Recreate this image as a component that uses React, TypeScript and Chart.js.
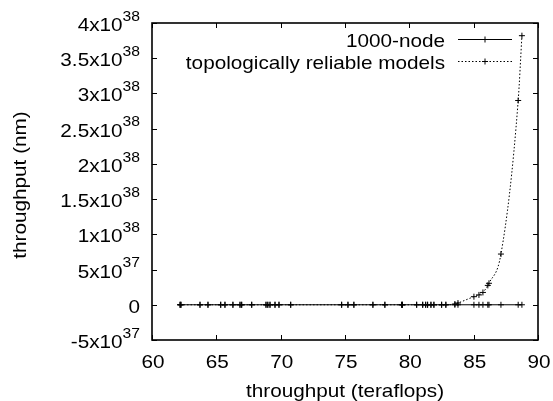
import { useEffect, useRef } from "react";
import { Chart, registerables } from "chart.js";

Chart.register(...registerables);

// ---- data ----
const xValues = [
  62.18, 62.25, 63.73, 64.35, 65.34, 65.67, 66.29, 66.84, 66.97, 67.75,
  68.86, 69.0, 69.17, 69.56, 69.87, 70.78, 74.74, 75.23, 75.69, 77.17,
  78.1, 79.4, 79.47, 80.57, 81.04, 81.27, 81.42, 81.68, 81.91, 82.51,
  82.84, 83.54, 83.78, 85.02, 85.41, 85.72, 86.1, 86.19, 87.12, 88.46, 88.75,
];
const nodeValues = [
  0, 0, 0, 0, 0, 0, 0, 0, 0, 0,
  0, 0, 0, 0, 0, 0, 0, 0, 0, 0,
  0, 0, 0, 0, 0, 0, 0, 0, 0, 0,
  0, 0, 0, 0, 0, 0, 0, 0, 0, 0, 0,
];
const reliableValues = [
  0, 0, 0, 0, 0, 0, 0, 0, 0, 0,
  0, 0, 0, 0, 0, 0, 0, 0, 0, 0,
  0, 0, 0, 0, 0, 0, 0, 0, 0, 0,
  0, 1e36, 2.5e36, 1.15e37, 1.4e37, 1.75e37, 2.75e37, 3.05e37, 7.2e37, 2.9e38, 3.82e38,
];
const seriesLabels = ["1000-node", "topologically reliable models"];

const xTicks = [60, 65, 70, 75, 80, 85, 90];
const xTickLabels = ["60", "65", "70", "75", "80", "85", "90"];
const yTicks = [-5e37, 0, 5e37, 1e38, 1.5e38, 2e38, 2.5e38, 3e38, 3.5e38, 4e38];
const yTickMantissas = ["-5x10", "0", "5x10", "1x10", "1.5x10", "2x10", "2.5x10", "3x10", "3.5x10", "4x10"];
const yTickExponents = ["37", "", "37", "38", "38", "38", "38", "38", "38", "38"];
const xTitle = "throughput (teraflops)";
const yTitle = "throughput (nm)";

const FONT_FAMILY = '"Liberation Sans", Arial, Helvetica, sans-serif';
const MAIN_SIZE = 18.5;
const SUP_SIZE = 14;
const STRETCH = 1.12;

function textWidth(ctx: CanvasRenderingContext2D, text: string, size: number) {
  ctx.font = `${size}px ${FONT_FAMILY}`;
  return ctx.measureText(text).width * STRETCH;
}

function drawText(
  ctx: CanvasRenderingContext2D,
  text: string,
  x: number,
  y: number,
  align: "left" | "right" | "center",
  size: number
) {
  ctx.font = `${size}px ${FONT_FAMILY}`;
  const w = ctx.measureText(text).width * STRETCH;
  let lx = x;
  if (align === "right") lx = x - w;
  else if (align === "center") lx = x - w / 2;
  ctx.save();
  ctx.translate(lx, y);
  ctx.scale(STRETCH, 1);
  ctx.textAlign = "left";
  ctx.textBaseline = "alphabetic";
  ctx.fillStyle = "#000";
  ctx.fillText(text, 0, 0);
  ctx.restore();
}

const decorPlugin = {
  id: "gnuplotDecor",
  afterDraw(chart: any) {
    const ctx: CanvasRenderingContext2D = chart.ctx;
    const { left, right, top, bottom } = chart.chartArea;
    const xs = chart.scales.x;
    const ys = chart.scales.y;
    ctx.save();
    ctx.strokeStyle = "#000";
    ctx.fillStyle = "#000";

    // ticks (inward, mirrored)
    ctx.lineWidth = 1;
    const tl = 5;
    ctx.beginPath();
    xTicks.forEach((v) => {
      const px = Math.round(xs.getPixelForValue(v)) + 0.5;
      ctx.moveTo(px, bottom);
      ctx.lineTo(px, bottom - tl);
      ctx.moveTo(px, top);
      ctx.lineTo(px, top + tl);
    });
    yTicks.forEach((v) => {
      const py = Math.round(ys.getPixelForValue(v)) + 0.5;
      ctx.moveTo(left, py);
      ctx.lineTo(left + tl, py);
      ctx.moveTo(right, py);
      ctx.lineTo(right - tl, py);
    });
    ctx.stroke();

    // frame
    ctx.lineWidth = 1.6;
    ctx.strokeRect(left, top, right - left, bottom - top);

    // x tick labels
    xTicks.forEach((v, i) => {
      const px = xs.getPixelForValue(v);
      drawText(ctx, xTickLabels[i], px + 1, bottom + 28, "center", MAIN_SIZE);
    });

    // y tick labels with superscript exponents
    const labelRight = 140;
    yTicks.forEach((v, i) => {
      const py = ys.getPixelForValue(v);
      const mant = yTickMantissas[i];
      const exp = yTickExponents[i];
      const ew = exp ? textWidth(ctx, exp, SUP_SIZE) : 0;
      const baseline = py + 8;
      drawText(ctx, mant, labelRight - ew, baseline, "right", MAIN_SIZE);
      if (exp) drawText(ctx, exp, labelRight - ew, baseline - 10.3, "left", SUP_SIZE);
    });

    // axis titles
    drawText(ctx, xTitle, (left + right) / 2, 396.5, "center", MAIN_SIZE);
    ctx.save();
    ctx.translate(25.5, 185);
    ctx.rotate(-Math.PI / 2);
    drawText(ctx, yTitle, 0, 0, "center", MAIN_SIZE);
    ctx.restore();

    // legend
    const textRight = 445;
    const sx0 = 458;
    const sx1 = 512;
    const rows = [39.5, 61.5];
    rows.forEach((ry, i) => {
      drawText(ctx, seriesLabels[i], textRight, ry + 7.3, "right", MAIN_SIZE);
      ctx.lineWidth = 1;
      ctx.setLineDash(i === 0 ? [] : [1.5, 2]);
      ctx.beginPath();
      ctx.moveTo(sx0, ry);
      ctx.lineTo(sx1, ry);
      ctx.stroke();
      ctx.setLineDash([]);
      const mx = (sx0 + sx1) / 2;
      ctx.beginPath();
      ctx.moveTo(mx - 3, ry);
      ctx.lineTo(mx + 3, ry);
      ctx.moveTo(mx, ry - 3);
      ctx.lineTo(mx, ry + 3);
      ctx.stroke();
    });

    ctx.restore();
  },
};

export default function App() {
  const ref = useRef<HTMLCanvasElement | null>(null);

  useEffect(() => {
    document.body.style.margin = "0";
    const canvas = ref.current;
    if (!canvas) return;
    const chart = new Chart(canvas, {
      type: "line",
      data: {
        datasets: [
          {
            label: seriesLabels[0],
            data: xValues.map((x, i) => ({ x, y: nodeValues[i] })),
            borderColor: "#000",
            borderWidth: 1,
            pointStyle: "cross",
            pointRadius: 3,
            pointBorderColor: "#000",
            pointBorderWidth: 1,
            fill: false,
            tension: 0,
          },
          {
            label: seriesLabels[1],
            data: xValues.map((x, i) => ({ x, y: reliableValues[i] })),
            borderColor: "#000",
            borderWidth: 1,
            borderDash: [1.5, 2],
            pointStyle: "cross",
            pointRadius: 3,
            pointBorderColor: "#000",
            pointBorderWidth: 1,
            fill: false,
            cubicInterpolationMode: "monotone",
          },
        ],
      },
      options: {
        responsive: false,
        animation: false,
        events: [],
        layout: { padding: { left: 152, right: 15, top: 23, bottom: 61 } },
        scales: {
          x: { type: "linear", min: 60, max: 90, display: false },
          y: { type: "linear", min: -5e37, max: 4e38, display: false },
        },
        plugins: {
          legend: { display: false },
          tooltip: { enabled: false },
        },
      },
      plugins: [decorPlugin],
    } as any);
    return () => chart.destroy();
  }, []);

  return (
    <div style={{ width: 553, height: 401, background: "#fff" }}>
      <canvas ref={ref} width={553} height={401} style={{ display: "block" }} />
    </div>
  );
}
